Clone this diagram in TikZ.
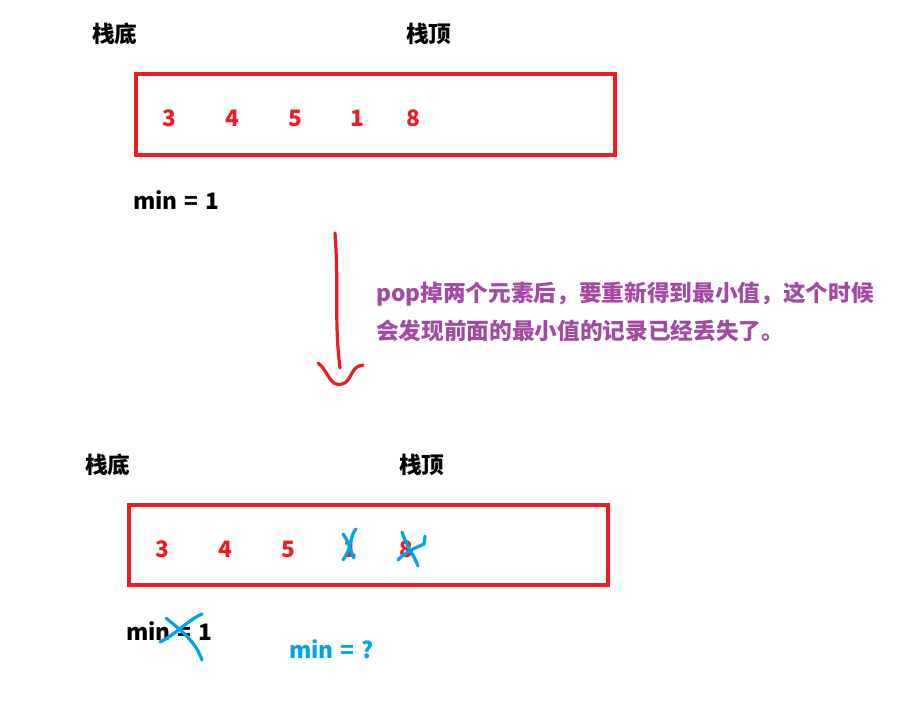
\documentclass[tikz,border=0pt]{standalone}
\usepackage{fontspec}
\setmainfont{Noto Sans CJK SC}
\usepackage{tikz}
\usetikzlibrary{positioning}
\definecolor{paintred}{HTML}{ED1C24}
\definecolor{paintblue}{HTML}{00A2E8}
\definecolor{paintpurple}{HTML}{A349A4}
\newcommand{\eqsp}{\hspace{0.3em}=\hspace{0.3em}}
\begin{document}
\begin{tikzpicture}
        [x=0.75pt,y=-0.75pt,
         every node/.style={font=\fontsize{17}{28.5}\selectfont\bfseries,inner sep=0pt},
         label/.style={anchor=west},
         digit/.style={text=paintred},
         stackbox/.style={draw=paintred,line width=3.4pt},
         pen/.style={draw=paintblue,line width=2.4pt,line cap=round,line join=round}]
      \useasboundingbox (0,0) rectangle (908,708);
      % before pop
      \node[label] (bot1) at (92,34) {栈底};
      \node[label] (top1) at (406,34) {栈顶};
      \draw[stackbox] (136,74) rectangle (615,155);
      \node[digit] (a3) at (169,118) {3};
      \node[digit] (a4) at (232,118) {4};
      \node[digit] (a5) at (295,118) {5};
      \node[digit] (a1) at (357,118) {1};
      \node[digit] (a8) at (413,118) {8};
      \node[label] (min1) at (133,200) {min\eqsp1};

      % hand drawn arrow
      \coordinate (from) at (335,233);
      \coordinate (to) at (341,380);
      \draw[paintred,line width=2.4pt,line cap=round]
            (from) .. controls (339,290) and (334,320) .. (340,368);
      \draw[paintred,line width=2.4pt,line cap=round]
            (318,363) .. controls (328,370) and (330,388) .. (342,384)
            .. controls (352,382) and (350,366) .. (363,365);
      \node[label,text=paintpurple,align=left] (note) at (376,312)
            {pop掉两个元素后，要重新得到最小值，这个时候\\会发现前面的最小值的记录已经丢失了。};

      % after pop
      \node[label] (bot2) at (85,465) {栈底};
      \node[label] (top2) at (399,465) {栈顶};
      \draw[stackbox] (129,505) rectangle (608,585);
      \node[digit] (b3) at (162,549) {3};
      \node[digit] (b4) at (225,549) {4};
      \node[digit] (b5) at (288,549) {5};
      \node[digit] (b1) at (350,549) {1};
      \node[digit] (b8) at (406,549) {8};
      \node[label] (min2) at (126,631) {min\eqsp1};
      \node[label,text=paintblue] (min3) at (289,649) {min\eqsp?};

      % crossed out
      \draw[pen] (343,534) .. controls (348,540) and (350,550) .. (354,558);
      \draw[pen] (356,529) .. controls (350,535) and (352,548) .. (343,560);
      \draw[pen] (402,532) .. controls (406,545) and (414,555) .. (418,566);
      \draw[pen] (425,536) -- (424,544) .. controls (415,548) and (405,552) .. (398,560);
      \draw[pen] (166,618) .. controls (180,630) and (195,640) .. (202,660);
      \draw[pen] (202,614) .. controls (188,620) and (175,635) .. (160,642);
\end{tikzpicture}
\end{document}
